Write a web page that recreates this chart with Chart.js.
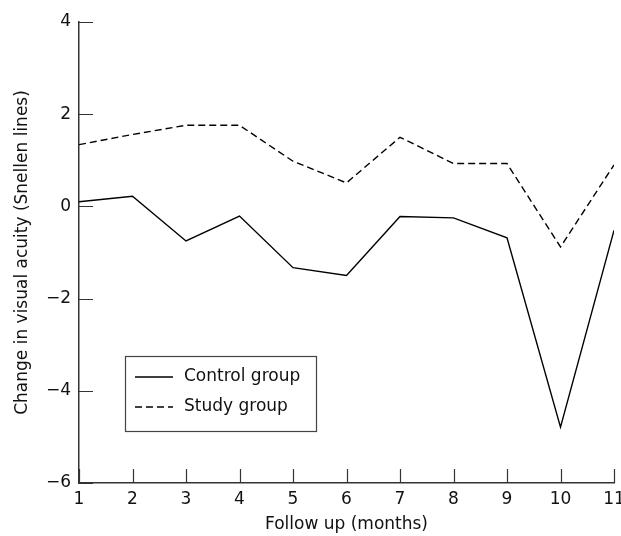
<!DOCTYPE html>
<html>
<head>
<meta charset="utf-8">
<script src="https://cdn.jsdelivr.net/npm/chart.js@4"></script>
<style>
  body { margin: 0; background: #fff; }
  #wrap { width: 621px; height: 536px; }
</style>
</head>
<body>
<div id="wrap"><canvas id="myChart"></canvas></div>
<script>
var months = [1, 2, 3, 4, 5, 6, 7, 8, 9, 10, 11];
var controlGroup = [0.10, 0.22, -0.75, -0.21, -1.33, -1.50, -0.22, -0.25, -0.68, -4.79, -0.52];
var studyGroup = [1.34, 1.56, 1.76, 1.76, 0.98, 0.51, 1.50, 0.93, 0.93, -0.88, 0.90];
var yTicks = [-6, -4, -2, 0, 2, 4];

var FONT = 'DejaVu Sans';

function toPoints(values) {
    return months.map(function (m, i) { return {x: m, y: values[i]}; });
}

// ticks point inwards, so draw them by hand from the scales
var insideTicks = {
    id: 'insideTicks',
    afterDraw: function (chart) {
        var ctx = chart.ctx;
        var xs = chart.scales.x, ys = chart.scales.y;
        var len = 14;
        ctx.save();
        ctx.strokeStyle = '#333';
        ctx.lineWidth = 1.2;
        ctx.beginPath();
        yTicks.forEach(function (v) {
            var py = Math.round(ys.getPixelForValue(v)) + 0.5;
            ctx.moveTo(xs.left, py);
            ctx.lineTo(xs.left + len, py);
        });
        months.forEach(function (m) {
            var px = Math.round(xs.getPixelForValue(m)) + 0.5;
            ctx.moveTo(px, ys.bottom);
            ctx.lineTo(px, ys.bottom - len);
        });
        ctx.stroke();
        ctx.restore();
    }
};

// boxed legend sitting inside the plot
var boxLegend = {
    id: 'boxLegend',
    afterDraw: function (chart) {
        var ctx = chart.ctx;
        var x0 = 125, y0 = 356, w = 191, h = 75;
        ctx.save();
        ctx.fillStyle = '#fff';
        ctx.fillRect(x0, y0, w, h);
        ctx.strokeStyle = '#444';
        ctx.lineWidth = 1.2;
        ctx.strokeRect(x0 + 0.5, y0 + 0.5, w, h);
        ctx.font = '17px "' + FONT + '"';
        ctx.textBaseline = 'middle';
        ctx.fillStyle = '#111';
        chart.data.datasets.forEach(function (ds, i) {
            var yy = y0 + 21 + i * 30;
            ctx.beginPath();
            ctx.strokeStyle = '#000';
            ctx.lineWidth = 1.3;
            ctx.setLineDash(ds.borderDash || []);
            ctx.moveTo(x0 + 10, yy);
            ctx.lineTo(x0 + 48, yy);
            ctx.stroke();
            ctx.setLineDash([]);
            ctx.fillText(ds.label, x0 + 59, yy);
        });
        ctx.restore();
    }
};

const ctx = document.getElementById('myChart').getContext('2d');
const myChart = new Chart(ctx, {
    type: 'line',
    data: {
        datasets: [{
            label: 'Control group',
            data: toPoints(controlGroup),
            borderColor: '#000',
            borderWidth: 1.4,
            pointRadius: 0,
            tension: 0
        }, {
            label: 'Study group',
            data: toPoints(studyGroup),
            borderColor: '#000',
            borderWidth: 1.4,
            borderDash: [7, 4],
            pointRadius: 0,
            tension: 0
        }]
    },
    options: {
        responsive: true,
        maintainAspectRatio: false,
        animation: false,
        layout: {
            padding: {top: 22, right: 0, left: 0, bottom: 0}
        },
        scales: {
            x: {
                type: 'linear',
                min: 1,
                max: 11,
                afterFit: function (scale) {
                    scale.height = 53;
                    // let the "11" label hang over the edge like the original
                    scale.paddingLeft = 0;
                    scale.paddingRight = 7;
                },
                grid: { display: false, drawTicks: false },
                border: { display: true, color: '#333', width: 1.5 },
                ticks: {
                    stepSize: 1,
                    padding: 6,
                    color: '#111',
                    font: { size: 17, family: FONT }
                },
                title: {
                    display: true,
                    text: 'Follow up (months)',
                    color: '#111',
                    padding: {top: 0, bottom: 1},
                    font: { size: 17, family: FONT }
                }
            },
            y: {
                min: -6,
                max: 4,
                afterFit: function (scale) { scale.width = 79; },
                grid: { display: false, drawTicks: false },
                border: { display: true, color: '#333', width: 1.5 },
                ticks: {
                    stepSize: 2,
                    padding: 8,
                    color: '#111',
                    font: { size: 17, family: FONT },
                    callback: function (v) { return String(v).replace('-', '\u2212'); }
                },
                title: {
                    display: true,
                    text: 'Change in visual acuity (Snellen lines)',
                    color: '#111',
                    padding: {top: 12, bottom: 0},
                    font: { size: 17, family: FONT }
                }
            }
        },
        plugins: {
            legend: { display: false },
            tooltip: { enabled: false }
        }
    },
    plugins: [insideTicks, boxLegend]
});
</script>
</body>
</html>
